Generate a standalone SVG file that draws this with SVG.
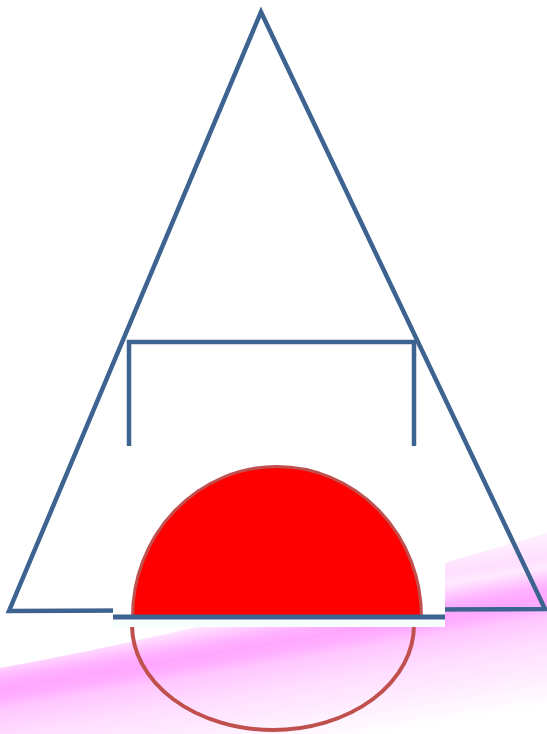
<svg xmlns="http://www.w3.org/2000/svg" width="547" height="734" viewBox="0 0 547 734">
  <defs>
    <linearGradient id="swoosh" gradientUnits="userSpaceOnUse" x1="273" y1="573.6" x2="302.5" y2="747.8">
      <stop offset="0" stop-color="#FFF4FF"/>
      <stop offset="0.056" stop-color="#FFEEFF"/>
      <stop offset="0.167" stop-color="#FFDEFF"/>
      <stop offset="0.222" stop-color="#FFEAFF"/>
      <stop offset="0.278" stop-color="#FFCCFF"/>
      <stop offset="0.333" stop-color="#FFB2FF"/>
      <stop offset="0.389" stop-color="#FFA6FF"/>
      <stop offset="0.444" stop-color="#FFB0FF"/>
      <stop offset="0.5" stop-color="#FFC6FF"/>
      <stop offset="0.64" stop-color="#FFDCFF"/>
      <stop offset="1" stop-color="#FFFFFF"/>
    </linearGradient>
    <style>
      .blue { fill: none; stroke: #3D6391; stroke-width: 4.5; stroke-linejoin: miter; }
      .brown { fill: none; stroke: #C0504D; stroke-width: 4; }
    </style>
  </defs>
  <rect width="547" height="734" fill="#FFFFFF"/>
  <g id="background">
    <path d="M0 668 Q 250 622 547 533 L 547 734 L 0 734 Z" fill="url(#swoosh)"/>
  </g>
  <g id="triangle">
    <polygon class="blue" points="261,12 9,611 545,609"/>
  </g>
  <g id="bracket">
    <polyline class="blue" points="129,446 129,342 414,342 414,446"/>
  </g>
  <g id="lower-arc">
    <path class="brown" d="M132 625 A 141 105 0 0 0 414 625"/>
  </g>
  <g id="half-disc">
    <rect x="113" y="458" width="332" height="169" fill="#FFFFFF"/>
    <rect x="113" y="619" width="332" height="8" fill="#F6FFFE"/>
    <path d="M132.5 617 A 144.5 150.5 0 0 1 421.5 617 Z" fill="#FF0000" stroke="#C0504D" stroke-width="3"/>
    <line x1="113" y1="617" x2="445" y2="617" stroke="#3D6391" stroke-width="5"/>
  </g>
</svg>
